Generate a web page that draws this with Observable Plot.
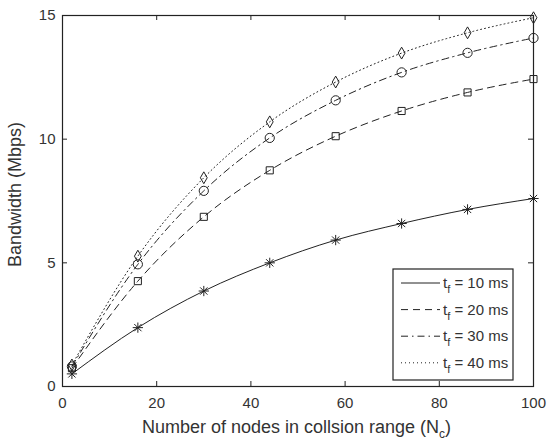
<!DOCTYPE html>
<html><head><meta charset="utf-8">
<script src="https://cdn.jsdelivr.net/npm/d3@7"></script>
<script src="https://cdn.jsdelivr.net/npm/@observablehq/plot@0.6"></script>
<style>body{margin:0;background:#fff;overflow:hidden}</style>
</head><body><div id="chart"></div>
<script>
const nodes = [2, 16, 30, 44, 58, 72, 86, 100];
const bw10 = [0.51, 2.38, 3.86, 5.00, 5.92, 6.59, 7.16, 7.60];
const bw20 = [0.74, 4.26, 6.86, 8.74, 10.12, 11.14, 11.89, 12.43];
const bw30 = [0.81, 4.94, 7.91, 10.05, 11.57, 12.70, 13.49, 14.09];
const bw40 = [0.87, 5.27, 8.44, 10.70, 12.31, 13.48, 14.30, 14.91];
const frameTimes = ["10", "20", "30", "40"];
const xTicks = [0, 20, 40, 60, 80, 100];
const yTicks = [0, 5, 10, 15];
const xLabel = ["Number of nodes in collsion range (N", "c", ")"];
const yLabel = "Bandwidth (Mbps)";

const W = 548, H = 443;
const mL = 62, mR = 15, mT = 15, mB = 57;
const pw = W - mL - mR, ph = H - mT - mB;
const ink = "#222";
const styles = {
  "10": {dash: null, symbols: ["plus", "times"], r: 3.4},
  "20": {dash: "7,5", symbols: ["square"], r: 4},
  "30": {dash: "7,4,1.5,4", symbols: ["circle"], r: 4.6},
  "40": {dash: "1,3", symbols: ["diamond"], r: 3.6}
};
const all = [bw10, bw20, bw30, bw40];
const rows = frameTimes.flatMap((t, i) => nodes.map((n, j) => ({t, n, v: all[i][j]})));

const marks = [];
for (const t of frameTimes) {
  const s = styles[t];
  const d = rows.filter(r => r.t === t);
  marks.push(Plot.line(d, {x: "n", y: "v", stroke: ink, strokeWidth: 1, strokeDasharray: s.dash, curve: "monotone-x"}));
  for (const sym of s.symbols) {
    marks.push(Plot.dot(d, {x: "n", y: "v", symbol: () => sym, stroke: ink, strokeWidth: 1, fill: sym === "plus" || sym === "times" ? null : "none", r: s.r}));
  }
}

const chart = Plot.plot({
  width: W, height: H,
  marginLeft: mL, marginRight: mR, marginTop: mT, marginBottom: mB,
  style: {fontFamily: "'Liberation Sans', Arial, sans-serif", fontSize: "15px", color: "#333", background: "#fff"},
  x: {domain: [0, 100]},
  y: {domain: [0, 15]},
  marks: [
    Plot.frame({stroke: ink, strokeWidth: 1.2}),
    Plot.tickX(xTicks, {x: d => d, stroke: ink, insetTop: ph - 5}),
    Plot.tickX(xTicks, {x: d => d, stroke: ink, insetBottom: ph - 5}),
    Plot.tickY(yTicks, {y: d => d, stroke: ink, insetRight: pw - 5}),
    Plot.tickY(yTicks, {y: d => d, stroke: ink, insetLeft: pw - 5}),
    Plot.axisX(xTicks, {tickSize: 0, tickPadding: 11, label: null, fill: "#333"}),
    Plot.axisY(yTicks, {tickSize: 0, tickPadding: 7, label: null, fill: "#333"}),
    ...marks
  ]
});
document.getElementById("chart").appendChild(chart);

const svg = d3.select(chart);
// axis labels
const xl = svg.append("text").attr("x", mL + pw / 2 - 1).attr("y", 433)
  .attr("text-anchor", "middle").attr("fill", "#333").style("font-size", "18px");
xl.append("tspan").attr("fill", "#333").text(xLabel[0]);
xl.append("tspan").attr("fill", "#333").attr("dy", 5).style("font-size", "12px").text(xLabel[1]);
xl.append("tspan").attr("fill", "#333").attr("dy", -5).text(xLabel[2]);
svg.append("text").attr("transform", `translate(21,${mT + ph / 2 - 6}) rotate(-90)`)
  .attr("text-anchor", "middle").attr("fill", "#333").style("font-size", "18px").text(yLabel);

// legend
const lg = svg.append("g");
const bx = 393, by = 269, bw = 120, bh = 111;
lg.append("rect").attr("x", bx).attr("y", by).attr("width", bw).attr("height", bh)
  .attr("fill", "#fff").attr("stroke", ink).attr("stroke-width", 1.2);
frameTimes.forEach((t, i) => {
  const yy = by + 14 + i * 26.6;
  lg.append("line").attr("x1", bx + 8).attr("x2", bx + 47).attr("y1", yy).attr("y2", yy)
    .attr("stroke", ink).attr("stroke-width", 1).attr("stroke-dasharray", styles[t].dash);
  const tx = lg.append("text").attr("x", bx + 50).attr("y", yy + 5).attr("text-anchor", "start")
    .attr("fill", "#333").style("font-size", "15px");
  tx.append("tspan").attr("fill", "#333").text("t");
  tx.append("tspan").attr("fill", "#333").attr("dy", 5).style("font-size", "11px").text("f");
  tx.append("tspan").attr("fill", "#333").attr("dy", -5).text(` = ${t} ms`);
});
</script></body></html>
